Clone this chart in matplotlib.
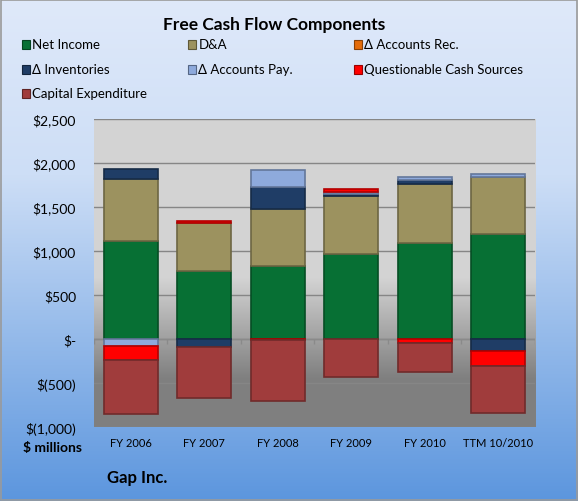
import numpy as np
import matplotlib
matplotlib.use("Agg")
import matplotlib.pyplot as plt
from matplotlib.patches import Rectangle

plt.rcParams['font.family'] = ['Lato', 'DejaVu Sans']

# data, $ millions
categories = ["FY 2006", "FY 2007", "FY 2008", "FY 2009", "FY 2010", "TTM 10/2010"]
net_income = [1110, 775, 830, 970, 1095, 1190]
d_and_a = [710, 540, 645, 650, 665, 650]
accounts_rec = [0, 0, 0, 0, 0, 0]
inventories = [115, -95, 250, 30, 50, -140]
accounts_pay = [-75, 0, 195, 20, 28, 34]
questionable = [-165, 25, -15, 35, -50, -165]
capex = [-615, -575, -695, -430, -330, -535]

series = [
    ("Net Income", net_income, "#077034"),
    ("D&A", d_and_a, "#9c925f"),
    ("\u0394 Accounts Rec.", accounts_rec, "#e46c0a"),
    ("\u0394 Inventories", inventories, "#1f3d66"),
    ("\u0394 Accounts Pay.", accounts_pay, "#8eaadc"),
    ("Questionable Cash Sources", questionable, "#ff0000"),
    ("Capital Expenditure", capex, "#a03c3c"),
]


def darker(c, f=0.7):
    r, g, b = matplotlib.colors.to_rgb(c)
    return (r * f, g * f, b * f)


def money(v, pos=None):
    v = int(round(v))
    if v == 0:
        return "$-"
    if v < 0:
        return "$({:,})".format(-v)
    return "${:,}".format(v)


fig = plt.figure(figsize=(5.78, 5.02), dpi=100)

# outer blue gradient background
bg = fig.add_axes([0, 0, 1, 1], zorder=-10)
t = np.linspace(0, 1, 300)[:, None]
top = np.array([223, 233, 250]) / 255
mid = np.array([205, 222, 246]) / 255
bot = np.array([92, 150, 222]) / 255
w = np.clip((t - 0.35) / 0.65, 0, 1)
grad = np.where(t < 0.35, top + (mid - top) * (t / 0.35), mid + (bot - mid) * w)
grad = grad[:, None, :]
bg.imshow(grad, aspect='auto', extent=[0, 1, 0, 1], origin='upper')
bg.add_patch(Rectangle((0.001, 0.001), 0.997, 0.997, fill=False, edgecolor="#9a9a9a", lw=1.2))
bg.set_axis_off()

ax = fig.add_axes([0.1626, 0.1474, 0.763, 0.6135])
ax.set_xlim(-0.5, len(categories) - 0.5)
ax.set_ylim(-1000, 2500)

# gray plot-area gradient (light above ~700, dark below ~-450)
yy = np.linspace(2500, -1000, 400)[:, None]
g = np.clip((yy - (-450)) / (700 - (-450)), 0, 1)
shade = 0.50 + (0.83 - 0.50) * g
img = np.repeat(shade[:, :, None], 3, axis=2)
ax.imshow(img, aspect='auto', extent=[-0.5, len(categories) - 0.5, -1000, 2500],
          origin='upper', zorder=0)

ax.set_yticks(np.arange(-1000, 2501, 500))
ax.yaxis.set_major_formatter(matplotlib.ticker.FuncFormatter(money))
ax.grid(axis='y', color="#868686", lw=1, zorder=1)
for s in ax.spines.values():
    s.set_visible(False)

x = np.arange(len(categories))
pos_base = np.zeros(len(categories))
neg_base = np.zeros(len(categories))
for name, vals, col in series:
    v = np.array(vals, dtype=float)
    p = np.where(v > 0, v, 0)
    n = np.where(v < 0, v, 0)
    for part, base in ((p, pos_base), (n, neg_base)):
        m = part != 0
        if m.any():
            ax.bar(x[m], part[m], 0.74, bottom=base[m], color=col,
                   edgecolor=darker(col), lw=1.2, zorder=3)
    pos_base += p
    neg_base += n

# zero axis line with category boundary ticks
ax.axhline(0, color="#8a8a8a", lw=1, zorder=2)
ax.vlines(np.arange(len(categories) + 1) - 0.5, -60, 0, color="#8a8a8a", lw=1, zorder=2)

ax.set_xticks(x)
ax.set_xticklabels(categories, fontsize=8)
ax.tick_params(axis='x', length=0, pad=7)
ax.tick_params(axis='y', length=0, pad=13, labelsize=10)

fig.text(0.475, 0.95, "Free Cash Flow Components", ha='center', va='center',
         fontsize=12.5, fontweight='bold')

# legend, 3 columns
col_x = [22, 188, 354]
row_y = [45, 70, 94]
for i, (name, vals, col) in enumerate(series):
    cx = col_x[i % 3] / 578
    cy = 1 - row_y[i // 3] / 502
    fig.patches.append(Rectangle((cx, cy - 0.009), 0.013, 0.016, transform=fig.transFigure,
                                 facecolor=col, edgecolor=darker(col, 0.6), lw=0.8))
    fig.text(cx + 0.018, cy, name, ha='left', va='center', fontsize=9.5)

fig.text(82 / 578, 1 - 448 / 502, "$ millions", ha='right', va='center',
         fontsize=10, fontweight='bold')
fig.text(107 / 578, 1 - 478 / 502, "Gap Inc.", ha='left', va='center',
         fontsize=12, fontweight='bold')

fig.savefig("out.png", dpi=100)
